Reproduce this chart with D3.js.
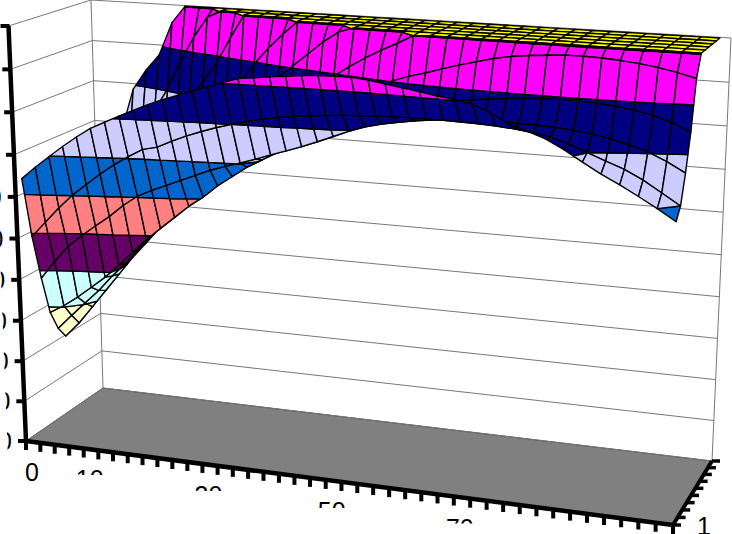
<!DOCTYPE html>
<html>
<head>
<meta charset="utf-8">
<style>
body { margin: 0; background: #fff; }
svg { display: block; }
text { font-family: "Liberation Sans", Arial, sans-serif; font-size: 25px; fill: #000; }
</style>
<script src="https://d3js.org/d3.v7.min.js"></script>
</head>
<body>
<div id="viz"></div>
<script>
// surface values, row0 is the front series, row10 the back one
var row0 = [6.4,6.7,6.98,7.25,7.5,7.73,7.9,8.07,8.23,8.39,8.53,8.65,8.78,8.9,9.02,9.14,9.18,9.23,9.27,9.31,9.34,9.35,9.35,9.32,9.26,9.2,9.14,9.08,9.03,8.95,8.8,8.58,8.46,8.32,8.12,7.88,7.65,7.45,7.23,7,6.75];
var row1 = [4.92,5.3,5.68,6.02,6.3,6.58,6.83,7.05,7.25,7.33,7.5,7.65,7.78,7.9,8,8.1,8.18,8.24,8.3,8.34,8.38,8.41,8.43,8.45,8.46,8.47,8.47,8.47,8.46,8.45,8.43,8.4,8.35,8.28,8.16,8,7.85,7.7,7.5,7.25,7];
var row2 = [3.8,4.25,4.65,4.95,5.22,5.48,5.78,6.03,6.2,6.35,6.5,6.65,6.8,6.92,7.03,7.15,7.28,7.4,7.53,7.67,7.82,7.97,8.1,8.19,8.26,8.32,8.37,8.41,8.43,8.45,8.45,8.44,8.43,8.41,8.38,8.33,8.25,8.15,8.03,7.85,7.63];
var row3 = [2.84,3.05,3.3,3.58,3.87,4.2,4.55,4.9,5.2,5.5,5.8,6.05,6.35,6.6,6.85,7.05,7.25,7.45,7.65,7.85,8.05,8.22,8.36,8.47,8.56,8.63,8.69,8.75,8.8,8.85,8.89,8.92,8.94,8.95,8.95,8.93,8.89,8.83,8.75,8.62,8.44];
var row4 = [2.33,2.7,3.05,3.4,3.8,4.15,4.55,4.95,5.3,5.6,5.95,6.2,6.45,6.65,6.9,7.1,7.3,7.55,7.8,8.05,8.3,8.55,8.8,9.02,9.15,9.25,9.37,9.48,9.58,9.68,9.75,9.8,9.83,9.86,9.86,9.85,9.82,9.78,9.72,9.64,9.54];
var row5 = [2.02,2.4,2.85,3.3,3.75,4.2,4.6,5,5.4,5.7,5.95,6.25,6.55,6.9,7.25,7.6,7.95,8.3,8.65,8.95,9.2,9.42,9.62,9.8,10,10.02,10.02,10.02,10.02,10.02,10.02,10.02,10.02,10.02,10.02,10.02,10.02,10.02,10.02,10.02,10.02];
var row6 = [2.2,2.6,3.1,3.6,4.05,4.5,4.95,5.4,5.85,6.3,6.75,7.2,7.65,8.1,8.45,8.75,9.05,9.35,9.65,9.9,10.02,10.02,10.02,10.02,10.02,10.02,10.02,10.02,10.02,10.02,10.02,10.02,10.02,10.02,10.02,10.02,10.02,10.02,10.02,10.02,10.02];
var row7 = [2.9,3.3,3.8,4.3,4.75,5.2,5.65,6.1,6.6,7.1,7.6,8.1,8.5,8.95,9.35,9.7,10.02,10.02,10.02,10.02,10.02,10.02,10.02,10.02,10.02,10.02,10.02,10.02,10.02,10.02,10.02,10.02,10.02,10.02,10.02,10.02,10.02,10.02,10.02,10.02,10.02];
var row8 = [3.6,4.1,4.6,5.1,5.6,6.1,6.6,7.2,7.95,8.35,8.85,9.45,10.02,10.02,10.02,10.02,10.02,10.02,10.02,10.02,10.02,10.02,10.02,10.02,10.02,10.02,10.02,10.02,10.02,10.02,10.02,10.02,10.02,10.02,10.02,10.02,10.02,10.02,10.02,10.02,10.02];
var row9 = [4.5,5,5.7,6.3,6.9,7.5,8.05,8.75,9.35,9.85,10.02,10.02,10.02,10.02,10.02,10.02,10.02,10.02,10.02,10.02,10.02,10.02,10.02,10.02,10.02,10.02,10.02,10.02,10.02,10.02,10.02,10.02,10.02,10.02,10.02,10.02,10.02,10.02,10.02,10.02,10.02];
var row10 = [4.8,5.5,6.8,7.9,8.4,8.8,9.6,10.02,10.02,10.02,10.02,10.02,10.02,10.02,10.02,10.02,10.02,10.02,10.02,10.02,10.02,10.02,10.02,10.02,10.02,10.02,10.02,10.02,10.02,10.02,10.02,10.02,10.02,10.02,10.02,10.02,10.02,10.02,10.02,10.02,10.02];
var rows = [row0,row1,row2,row3,row4,row5,row6,row7,row8,row9,row10];

var bandLevels = [0,1,2,3,4,5,6,7,8,9,10];
var bandColors = ["#9999ff","#993366","#ffffcc","#ccffff","#660066","#ff8080","#0066cc","#ccccff","#000080","#ff00ff","#ffff00"];
var zLabels = ["0","10","20","30","40","50","60","70","80","90","100"];
var xLabels = ["0","10","30","50","70"];
var xLabelTicks = [0,4,12,20,28];
var xLabelShown = [20,5.5,6,7,6]; // the labels are cut off under the top few pixels
var depthLabel = "1";

// dimensions
var width = 732;
var height = 534;
var xTicks = 41;
var depthTicks = 9;

// corners of the plot box on the screen
var floorQuad = [[26,441],[673,525],[712,461],[103,388]];
var topQuad = [[8.5,26],[689,73],[731,38],[91,0]];

// square to quad mapping
function quadMap(q) {
    var sx = q[0][0]-q[1][0]+q[2][0]-q[3][0], sy = q[0][1]-q[1][1]+q[2][1]-q[3][1];
    var dx1 = q[1][0]-q[2][0], dx2 = q[3][0]-q[2][0], dy1 = q[1][1]-q[2][1], dy2 = q[3][1]-q[2][1];
    var den = dx1*dy2-dx2*dy1;
    var g = (sx*dy2-dx2*sy)/den, h = (dx1*sy-sx*dy1)/den;
    var a = q[1][0]-q[0][0]+g*q[1][0], b = q[3][0]-q[0][0]+h*q[3][0];
    var d = q[1][1]-q[0][1]+g*q[1][1], e = q[3][1]-q[0][1]+h*q[3][1];
    return function(u, v) {
        var w = g*u+h*v+1;
        return [(a*u+b*v+q[0][0])/w, (d*u+e*v+q[0][1])/w];
    };
}
var floorMap = quadMap(floorQuad);
var topMap = quadMap(topQuad);

var colScale = d3.scaleLinear().domain([0, xTicks-1]).range([0.005, 1-0.5/xTicks]);
var rowScale = d3.scaleLinear().domain([0, rows.length-1]).range([0.5/rows.length, 1-0.5/rows.length]);
var zScale = d3.scaleLinear().domain([0, 10]).range([0, 1]);

// u, v in 0..1 on the floor, z in data units
function project(u, v, z) {
    var w = zScale(z);
    var t = w/(w+(1-w)*1.05); // heights get a bit bigger going up
    var p0 = floorMap(u, v), p1 = topMap(u, v);
    return [p0[0]+(p1[0]-p0[0])*t, p0[1]+(p1[1]-p0[1])*t];
}

// cuts a polygon of [u,v,z] points to one z band
function clipBand(poly, lo, hi) {
    function cut(pts, keep, level) {
        var out = [];
        pts.forEach(function(p, i) {
            var q = pts[(i+1)%pts.length];
            if (keep(p[2])) out.push(p);
            if (keep(p[2]) !== keep(q[2])) {
                var f = (level-p[2])/(q[2]-p[2]);
                out.push([p[0]+(q[0]-p[0])*f, p[1]+(q[1]-p[1])*f, level]);
            }
        });
        return out;
    }
    var res = cut(poly, function(z) { return z >= lo; }, lo);
    if (res.length) res = cut(res, function(z) { return z < hi; }, hi);
    return res;
}

var svg = d3.select("#viz").append("svg").attr("width", width).attr("height", height);
var line = d3.line();

// floor
svg.append("path")
    .attr("d", line(floorQuad)+"Z")
    .attr("fill", "#808080")
    .attr("stroke", "#333")
    .attr("stroke-width", 0.8);

// walls
var grid = svg.append("g").attr("fill", "none").attr("stroke", "#777").attr("stroke-width", 1);
grid.selectAll(".wall")
    .data(bandLevels)
    .enter()
    .append("path")
    .attr("d", function(d) {
        return line([project(0,0,d), project(0,1,d), project(1,1,d)]);
    });
grid.append("path").attr("d", line([project(0,1,0), project(0,1,10)]));
grid.append("path").attr("d", line([project(1,1,0), project(1,1,10)]));

// surface, back row first so the front folds cover it
var cells = [];
for (var j = rows.length-2; j >= 0; j--) {
    for (var i = 0; i < xTicks-1; i++) {
        var poly = [
            [colScale(i), rowScale(j), rows[j][i]],
            [colScale(i+1), rowScale(j), rows[j][i+1]],
            [colScale(i+1), rowScale(j+1), rows[j+1][i+1]],
            [colScale(i), rowScale(j+1), rows[j+1][i]]
        ];
        bandLevels.forEach(function(lo, b) {
            var piece = clipBand(poly, lo, lo+1);
            if (piece.length > 2) cells.push({ pts: piece, band: b });
        });
    }
}
svg.append("g").selectAll("path")
    .data(cells)
    .enter()
    .append("path")
    .attr("d", function(d) {
        return line(d.pts.map(function(p) { return project(p[0], p[1], p[2]); }))+"Z";
    })
    .attr("fill", function(d) { return bandColors[d.band]; })
    .attr("stroke", "#000")
    .attr("stroke-width", 1.4)
    .attr("stroke-linejoin", "round");

// axes
var axes = svg.append("g").attr("fill", "none").attr("stroke", "#000");
axes.append("path").attr("stroke-width", 4.5).attr("d", line([project(0,0,0), project(0,0,10)]));
axes.append("path").attr("stroke-width", 4.5).attr("d", line([project(0,0,0), project(1,0,0)]));
axes.append("path").attr("stroke-width", 4).attr("d", line([project(1,0,0), project(1,1,0)]));

axes.selectAll(".ztick")
    .data(bandLevels)
    .enter()
    .append("path")
    .attr("stroke-width", 4)
    .attr("d", function(d) {
        var p = project(0,0,d);
        return line([[p[0]-8,p[1]], [p[0]+1,p[1]]]);
    });
axes.selectAll(".xtick")
    .data(d3.range(xTicks+1))
    .enter()
    .append("path")
    .attr("stroke-width", 4)
    .attr("d", function(d) {
        var p = project(d/xTicks,0,0);
        return line([p, [p[0],p[1]+9]]);
    });
axes.selectAll(".dtick")
    .data(d3.range(depthTicks+1))
    .enter()
    .append("path")
    .attr("stroke-width", 3.5)
    .attr("d", function(d) {
        var p = project(1,d/depthTicks,0);
        return line([p, [p[0]+8,p[1]]]);
    });

// tick labels, all of them are cut by the chart frame
var defs = svg.append("defs");
defs.append("clipPath").attr("id", "zclip").append("path")
    .attr("d", function() {
        var a = project(0,0,0), b = project(0,0,10);
        return line([[a[0]-18,a[1]+20],[a[0]-10,a[1]+20],[b[0]-10,b[1]-20],[b[0]-18,b[1]-20]])+"Z";
    });
svg.append("g").attr("clip-path", "url(#zclip)")
    .selectAll("text")
    .data(zLabels)
    .enter()
    .append("text")
    .attr("text-anchor", "end")
    .attr("dy", "0.36em")
    .attr("x", function(d, i) { return project(0,0,bandLevels[i])[0]-14; })
    .attr("y", function(d, i) { return project(0,0,bandLevels[i])[1]; })
    .text(function(d) { return d; });

xLabels.forEach(function(d, i) {
    var p = project(xLabelTicks[i]/xTicks,0,0);
    var base = p[1]+40;
    defs.append("clipPath").attr("id", "xclip"+i).append("rect")
        .attr("x", p[0]-30).attr("y", base-19).attr("width", 60).attr("height", xLabelShown[i]);
    svg.append("text")
        .attr("clip-path", "url(#xclip"+i+")")
        .attr("text-anchor", "middle")
        .attr("x", p[0]+6)
        .attr("y", base)
        .text(d);
});
svg.append("text")
    .attr("text-anchor", "middle")
    .attr("x", project(1,0,0)[0]+31)
    .attr("y", 535)
    .text(depthLabel);
</script>
</body>
</html>
